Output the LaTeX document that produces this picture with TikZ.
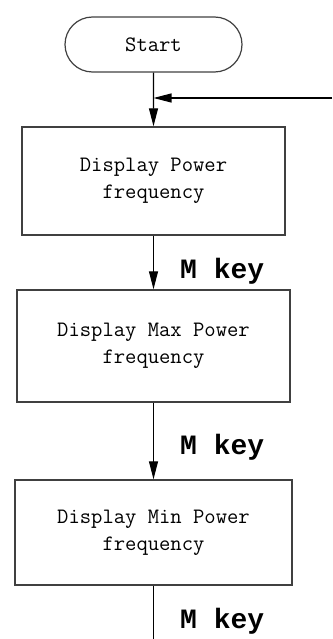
\documentclass[tikz,border=0pt]{standalone}
\usepackage{fontspec}
\newfontfamily\keyfont{Liberation Mono}
\usetikzlibrary{arrows.meta,shapes.misc}
\begin{document}
\begin{tikzpicture}[x=1pt,y=-1pt,
  txt/.style={font=\ttfamily\fontsize{22}{27}\selectfont, align=center},
  box/.style={draw=black!75, line width=1.4pt, txt, inner sep=0pt},
  term/.style={draw=black!75, line width=1.2pt, rounded rectangle, txt, inner sep=0pt,
    minimum width=177pt, minimum height=55pt},
  conn/.style={line width=1.1pt, -{Triangle[length=18pt,width=9pt]}},
  plain/.style={line width=1.1pt},
  keylabel/.style={font=\keyfont\bfseries\fontsize{28}{28}\selectfont, anchor=base west, inner sep=0pt}]
\useasboundingbox (0,0) rectangle (332,639);
\node[term] (start) at (153.5,44.5) {Start};
\node[box, minimum width=263pt, minimum height=108pt] (b1) at (153.5,181) {Display Power\\frequency};
\node[box, minimum width=273pt, minimum height=112pt] (b2) at (153.5,346) {Display Max Power\\frequency};
\node[box, minimum width=277pt, minimum height=105pt] (b3) at (153.5,532.5) {Display Min Power\\frequency};
\coordinate (j) at (153.5,98);
\coordinate (ret) at (332,98);
\coordinate (endp) at (153.5,639);
\draw[conn] (start) -- (b1);
\draw[conn] (ret) -- (j);
\draw[conn] (b1) -- (b2);
\draw[conn] (b2) -- (b3);
\draw[plain] (b3) -- (endp);
\node[keylabel] (k1) at (180,278) {M key};
\node[keylabel] (k2) at (180,454) {M key};
\node[keylabel] (k3) at (180,628) {M key};
\end{tikzpicture}
\end{document}
